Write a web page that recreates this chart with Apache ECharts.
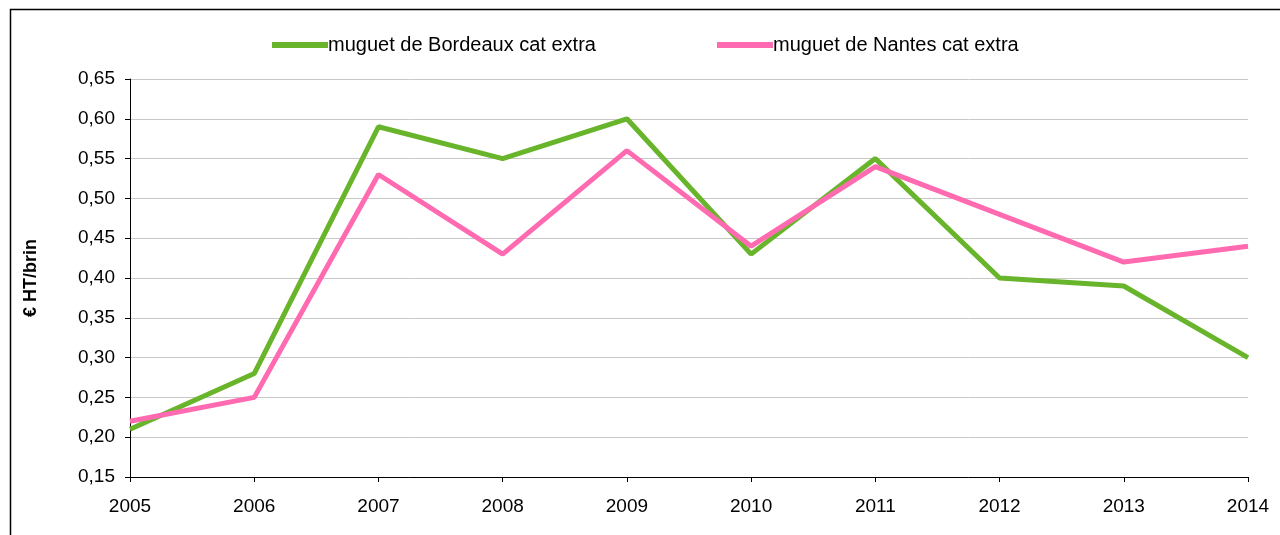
<!DOCTYPE html>
<html>
<head>
<meta charset="utf-8">
<script src="https://cdn.jsdelivr.net/npm/echarts@6/dist/echarts.min.js"></script>
<style>html,body{margin:0;padding:0;background:#fff}#c{width:1280px;height:535px}</style>
</head>
<body>
<div id="c"></div>
<script>
const years = ['2005','2006','2007','2008','2009','2010','2011','2012','2013','2014'];
const bordeaux = [0.21,0.28,0.59,0.55,0.60,0.43,0.55,0.40,0.39,0.30];
const nantes = [0.22,0.25,0.53,0.43,0.56,0.44,0.54,0.48,0.42,0.44];
const seriesNames = ['muguet de Bordeaux cat extra','muguet de Nantes cat extra'];
const yAxisTitle = '€ HT/brin';

const chart = echarts.init(document.getElementById('c'), null, {renderer:'canvas'});
const font = 'Liberation Sans, Arial, sans-serif';
const legendBase = {
  top:30, itemWidth:56, itemHeight:6, icon:'rect',
  textStyle:{fontFamily:font,fontSize:20,color:'#000',padding:[0,0,0,-5]}
};
chart.setOption({
  animation:false,
  graphic:[{type:'rect',shape:{x:10.5,y:9.5,width:1400,height:700},style:{fill:'none',stroke:'#000',lineWidth:1.5},silent:true}],
  legend:[
    Object.assign({left:267, data:[seriesNames[0]]}, legendBase),
    Object.assign({left:712, data:[seriesNames[1]]}, legendBase)
  ],
  grid:{left:130,right:32,top:79,bottom:58,containLabel:false},
  xAxis:{
    type:'category', data:years, boundaryGap:false,
    axisLine:{lineStyle:{color:'#000',width:1}},
    axisTick:{show:true,length:5,lineStyle:{color:'#000'}},
    axisLabel:{fontFamily:font,fontSize:19,color:'#000',margin:20},
    splitLine:{show:false}
  },
  yAxis:{
    type:'value', min:0.15, max:0.65, interval:0.05,
    name:yAxisTitle, nameLocation:'middle', nameGap:90, nameRotate:90,
    nameTextStyle:{fontFamily:font,fontSize:18,fontWeight:'bold',color:'#000'},
    axisLine:{show:true,lineStyle:{color:'#000',width:1}},
    axisTick:{show:true,length:5,lineStyle:{color:'#000'}},
    axisLabel:{fontFamily:font,fontSize:19,color:'#000',margin:15,
      formatter:v=>v.toFixed(2).replace('.',',')},
    splitLine:{show:true,lineStyle:{color:'#c8c8c8',width:1}}
  },
  series:[
    {name:seriesNames[0],type:'line',data:bordeaux,symbol:'none',
     lineStyle:{color:'#68B42A',width:5},itemStyle:{color:'#68B42A'}},
    {name:seriesNames[1],type:'line',data:nantes,symbol:'none',
     lineStyle:{color:'#FF6AB0',width:5},itemStyle:{color:'#FF6AB0'}}
  ]
});
</script>
</body>
</html>
